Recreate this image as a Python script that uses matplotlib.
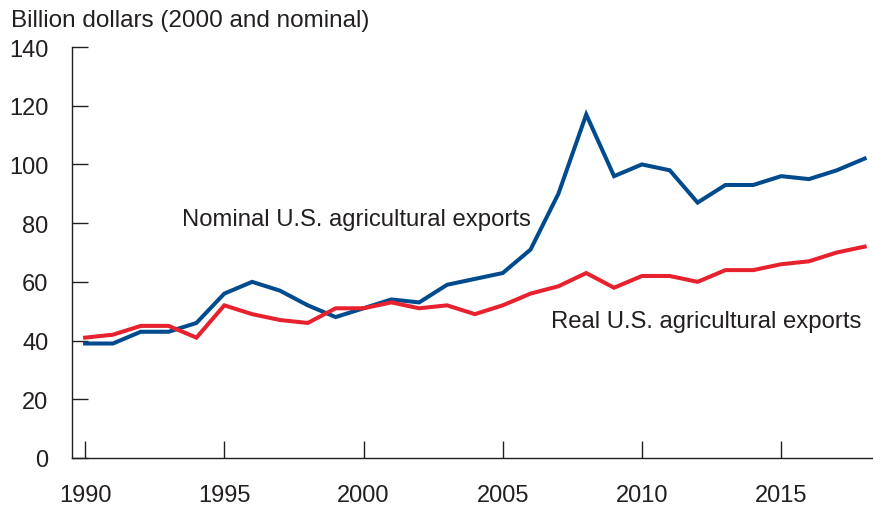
import numpy as np
import matplotlib.pyplot as plt

plt.rcParams['font.family'] = ['Liberation Sans', 'DejaVu Sans']

years = np.arange(1990, 2019)
nominal = [39, 39, 43, 43, 46, 56, 60, 57, 52, 48, 51, 54, 53, 59, 61, 63, 71,
           90, 117, 96, 100, 98, 87, 93, 93, 96, 95, 98, 102]
real = [41, 42, 45, 45, 41, 52, 49, 47, 46, 51, 51, 53, 51, 52, 49, 52, 56,
        58.5, 63, 58, 62, 62, 60, 64, 64, 66, 67, 70, 72]

blue = '#004b8d'
red = '#e8212e'
txt = '#231f20'

fig = plt.figure(figsize=(8.73, 5.06), dpi=100)
ax = fig.add_axes([72 / 873, 47 / 506, 801 / 873, 411 / 506])

ax.plot(years, nominal, color=blue, lw=2.9, solid_joinstyle='miter')
ax.plot(years, real, color=red, lw=2.9, solid_joinstyle='miter')

ax.set_xlim(1989.53, 2018.3)
ax.set_ylim(0, 140)
ax.set_xticks([1990, 1995, 2000, 2005, 2010, 2015])
ax.set_yticks(range(0, 141, 20))

for s in ['top', 'right']:
    ax.spines[s].set_visible(False)
for s in ['left', 'bottom']:
    ax.spines[s].set_color(txt)
    ax.spines[s].set_linewidth(1.0)

ax.tick_params(axis='x', direction='in', length=12, width=1.0, pad=19,
               labelsize=17, colors=txt)
ax.tick_params(axis='y', direction='in', length=11.5, width=1.0, pad=17,
               labelsize=17, colors=txt)

ax.text(1993.48, 81.5, 'Nominal U.S. agricultural exports', fontsize=17.2,
        color=txt, va='center', ha='left')
ax.text(2017.9, 46.7, 'Real U.S. agricultural exports', fontsize=17.2,
        color=txt, va='center', ha='right')

fig.text(11 / 873, 1 - 21 / 506, 'Billion dollars (2000 and nominal)',
         fontsize=17.5, color=txt, va='center', ha='left')

plt.savefig('out.png', dpi=100)
